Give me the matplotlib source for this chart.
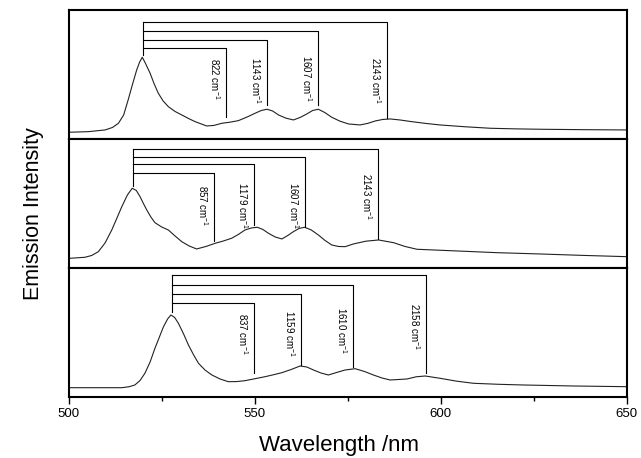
import matplotlib
matplotlib.use("Agg")
import matplotlib.pyplot as plt
from matplotlib.ticker import MultipleLocator

plt.rcParams['font.family'] = ['Liberation Sans', 'DejaVu Sans']
plt.rcParams['mathtext.fontset'] = 'custom'
plt.rcParams['mathtext.rm'] = 'Liberation Sans'
plt.rcParams['mathtext.it'] = 'Liberation Sans:italic'

# spectra (arbitrary intensity units, 0..129 per panel)
wl_top = [500, 505.3, 509.8, 511.8, 513.4, 514.8, 516.0, 517.2, 518.3, 519.1, 519.8,
          520.6, 521.9, 523.0, 524.1, 525.4, 526.8, 528.6, 530.4, 532.2, 534.0,
          537.1, 539.0, 541.2, 543.4, 545.6, 548.0, 550.1, 551.8, 553.3, 554.8,
          556.4, 558.4, 560.4, 562.2, 564.0, 565.6, 567.1, 568.8, 570.7, 572.9,
          575.2, 578.3, 580.4, 582.4, 584.4, 586.4, 589.0, 591.8, 595.8, 599.8,
          606.5, 613.3, 620.0, 626.7, 638.0, 650]
int_top = [6.7, 7.3, 9, 11.5, 15.7, 24, 39, 55, 69, 77, 81.7,
           76, 65.7, 55, 45.7, 38, 32.3, 27.5, 24, 20.5, 17.3,
           13, 13.5, 15.7, 16.8, 18.3, 22, 25.7, 28.5, 29.7, 28,
           24, 20.8, 19, 21.5, 25, 28.5, 29.7, 26.5, 21.7, 17.8,
           15, 14, 15.6, 18, 19.5, 20, 19, 17.5, 15.6, 14,
           12.2, 10.7, 10.1, 9.7, 9.3, 9]

wl_mid = [500.4, 504.4, 506.2, 508.0, 509.8, 511.6, 513.0, 514.3, 515.8, 517.1,
          518.2, 519.2, 520.1, 521.0, 522.1, 523.2, 525.0, 526.8, 528.6, 530.4,
          532.4, 534.4, 536.9, 539.4, 541.6, 543.8, 545.6, 547.4, 549.1, 550.7,
          552.2, 553.7, 555.5, 557.3, 558.9, 560.4, 561.9, 563.4, 565.2, 567.1,
          568.9, 570.7, 572.5, 574.3, 576.5, 579.9, 583.3, 587.3, 590.4, 593.6,
          602.5, 615.1, 626.7, 638.0, 650]
int_mid = [9.7, 10.7, 12.5, 16.3, 25, 38, 50, 61.3, 73, 79.7,
           77.5, 71.3, 64.5, 58, 51, 45.3, 41, 38, 32, 26.3,
           22, 19, 21.5, 24.7, 27, 29.7, 33.5, 38, 40, 40.7,
           38.5, 34.7, 31, 29, 32.5, 36.3, 39.5, 40.7, 38, 33,
           27.5, 23, 21.5, 21.3, 24, 26.8, 28, 25.3, 21.5, 18.7,
           17.3, 15.3, 14, 12.6, 11.3]

wl_bot = [500, 514.3, 516.2, 517.8, 519.2, 520.5, 521.9, 523.2, 524.4, 525.5,
          526.6, 527.5, 528.5, 529.5, 530.9, 532.2, 533.6, 534.9, 536.7, 538.5,
          540.7, 542.9, 545.1, 547.4, 550.1, 552.8, 555.0, 557.3, 559.8, 562.2,
          564.0, 565.8, 567.8, 569.8, 572.0, 574.3, 577.0, 579.5, 581.9, 584.2,
          586.4, 590.9, 593.4, 595.8, 599.8, 604.3, 608.8, 615.5, 622.2, 635.7, 650]
int_bot = [9.3, 9.3, 10.2, 12, 16.5, 23.7, 35, 48.7, 60, 70.3,
           78, 82, 79.5, 73.7, 63, 52, 42, 33.7, 26.8, 22,
           18, 15.3, 15.4, 16.3, 18.3, 20.3, 22.2, 24.3, 27.5, 31,
           30, 27, 24, 22, 24.5, 27, 28.3, 25.5, 22, 19,
           17, 18, 20.2, 21, 18.7, 15.8, 13.7, 12.7, 12, 11, 10.3]

# vibronic progressions: origin peak and the lines marked from it
peak_top = 519.9
marks_top = [542.2, 553.3, 566.9, 585.5]
labels_top = ['822', '1143', '1607', '2143']

peak_mid = 517.2
marks_mid = [539.2, 549.9, 563.4, 583.0]
labels_mid = ['857', '1179', '1607', '2143']

peak_bot = 527.7
marks_bot = [549.8, 562.5, 576.5, 596.0]
labels_bot = ['837', '1159', '1610', '2158']

# bracket layout: (peak line bottom, bracket heights, line ends, label tops)
layout = [
    (84, [90.7, 99, 108, 116.7], [21.7, 34, 34, 20.7], [81, 82.3, 84, 82.3]),
    (82, [95.3, 103.7, 111.3, 118.7], [27.3, 43, 41.3, 28.7], [83, 86.3, 86.3, 95]),
    (85.3, [93.7, 103, 112, 122], [23.7, 32, 30.3, 23.7], [84, 87, 90.3, 93.7]),
]

panels = [
    (wl_top, int_top, peak_top, marks_top, labels_top),
    (wl_mid, int_mid, peak_mid, marks_mid, labels_mid),
    (wl_bot, int_bot, peak_bot, marks_bot, labels_bot),
]

fig = plt.figure(figsize=(6.41, 4.58), dpi=100)
left, width, h = 0.107, 0.871, 0.2817
bottoms = [0.1332 + 2 * h, 0.1332 + h, 0.1332]

for i, (wl, inten, peak, marks, labels) in enumerate(panels):
    ax = fig.add_axes([left, bottoms[i], width, h])
    ax.plot(wl, inten, color='#222222', lw=0.8)
    pk_bottom, levels, ends, tops = layout[i]
    ax.plot([peak, peak], [pk_bottom, max(levels)], color='black', lw=0.8)
    for x, lev, end, ty, lab in zip(marks, levels, ends, tops, labels):
        ax.plot([peak, x, x], [lev, lev, end], color='black', lw=0.8)
        ax.annotate(lab + ' cm$^{-1}$', xy=(x, ty), xytext=(-8, 0),
                    textcoords='offset points', rotation=270,
                    ha='center', va='top', fontsize=7)
    ax.set_xlim(500, 650)
    ax.set_ylim(0, 129)
    ax.set_yticks([])
    for s in ax.spines.values():
        s.set_linewidth(1.5)
    if i < 2:
        ax.set_xticks([])
    else:
        ax.xaxis.set_major_locator(MultipleLocator(50))
        ax.xaxis.set_minor_locator(MultipleLocator(25))
        ax.tick_params(axis='x', which='major', length=5, width=1, labelsize=9.5, pad=3)
        ax.tick_params(axis='x', which='minor', length=3, width=1)

fig.text(34 / 641, 1 - 214 / 458, 'Emission Intensity', rotation=90,
         ha='center', va='center', fontsize=15.5)
fig.text(339 / 641, 1 - 451 / 458, 'Wavelength /nm', ha='center',
         va='baseline', fontsize=16)

fig.savefig('out.png', dpi=100)
